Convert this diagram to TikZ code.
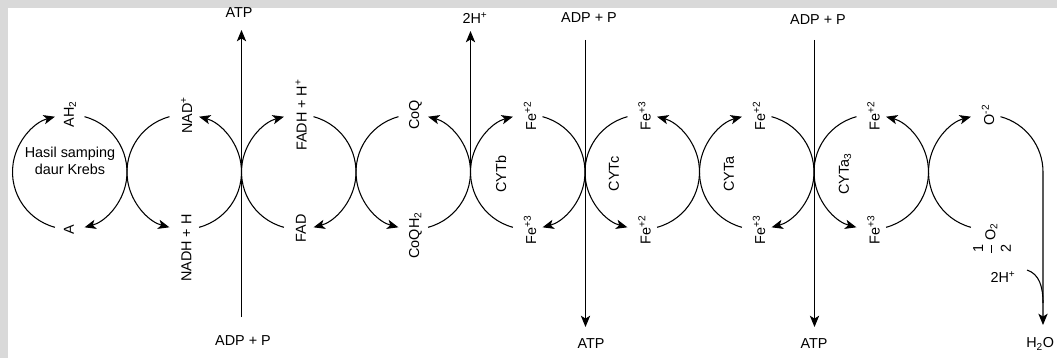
\documentclass[tikz,border=0pt]{standalone}
\usepackage{fontspec}
\setmainfont{Liberation Sans}
\usetikzlibrary{arrows.meta}
\definecolor{bandgray}{RGB}{217,217,217}
\def\crad{57.25}
\tikzset{
  ln/.style={line width=0.8pt},
  arr/.style={ln, -{Stealth[length=8.5pt,width=7pt,inset=2.2pt]}},
  lbl/.style={font=\fontsize{10.8}{12.75}\selectfont, inner sep=0pt},
  rlbl/.style={lbl, rotate=90},
}
\begin{document}
\begin{tikzpicture}[x=0.75pt,y=0.75pt]
\useasboundingbox (0,0) rectangle (1057,358);
\clip (0,0) rectangle (1057,358);
\fill[bandgray] (0,350) rectangle (1057,358);
\fill[bandgray] (0,0) rectangle (8,358);

% circle centres
\foreach \i/\x in {1/69.75,2/184.25,3/298.75,4/413.25,5/527.75,6/642.25,7/756.75,8/871.25,9/985.75}
  \coordinate (C\i) at (\x,186);

% clockwise circles: 1,3,5,7
\foreach \i in {1,3,5,7}{
  \draw[arr] ([shift={(255:\crad)}]C\i) arc[start angle=255,end angle=105,radius=\crad];
  \draw[arr] ([shift={(75:\crad)}]C\i) arc[start angle=75,end angle=-75,radius=\crad];
}
% counter-clockwise circles: 2,4,6,8
\foreach \i in {2,4,6,8}{
  \draw[arr] ([shift={(105:\crad)}]C\i) arc[start angle=105,end angle=255,radius=\crad];
  \draw[arr] ([shift={(-75:\crad)}]C\i) arc[start angle=-75,end angle=75,radius=\crad];
}
% last circle
\coordinate (h2otip) at (1043,33);
\draw[arr] ([shift={(255:\crad)}]C9) arc[start angle=255,end angle=105,radius=\crad];
\draw[arr] ([shift={(75:\crad)}]C9) arc[start angle=75,end angle=0,radius=\crad] -- (h2otip);

% top labels
\node[rlbl] (ah2) at (70,244) {AH\textsubscript{2}};
\node[rlbl] (nad) at (186.5,243) {NAD\textsuperscript{+}};
\node[rlbl] (fadh) at (301,243) {FADH + H\textsuperscript{+}};
\node[rlbl] (coq) at (415.5,243) {CoQ};
\node[rlbl] (fe1) at (530,242) {Fe\textsuperscript{+2}};
\node[rlbl] (fe2) at (644.5,242) {Fe\textsuperscript{+3}};
\node[rlbl] (fe3) at (759,242) {Fe\textsuperscript{+2}};
\node[rlbl] (fe4) at (873.5,242) {Fe\textsuperscript{+2}};
\node[rlbl] (o2m) at (988,243) {O\textsuperscript{-2}};

% bottom labels
\node[rlbl] (a) at (69,128) {A};
\node[rlbl,anchor=east] (nadh) at (186.5,144) {NADH + H};
\node[rlbl,anchor=east] (fad) at (301,144) {FAD};
\node[rlbl,anchor=east] (coqh) at (415.5,146) {CoQH\textsubscript{2}};
\node[rlbl,anchor=east] (fe5) at (530,143) {Fe\textsuperscript{+3}};
\node[rlbl,anchor=east] (fe6) at (644.5,143) {Fe\textsuperscript{+2}};
\node[rlbl,anchor=east] (fe7) at (759,143) {Fe\textsuperscript{+3}};
\node[rlbl,anchor=east] (fe8) at (873.5,143) {Fe\textsuperscript{+3}};
\node[rlbl] (halfo) at (992,119) {${\displaystyle\frac{\mbox{1}\rule[-5pt]{0pt}{5pt}}{\rule{0pt}{13pt}\mbox{2}}}$\,O\textsubscript{2}};

% inner labels
\node[lbl,align=center] (krebs) at (70,197) {Hasil samping\\daur Krebs};
\node[rlbl] (cytb) at (501,184) {CYTb};
\node[rlbl] (cytc) at (614,184) {CYTc};
\node[rlbl] (cyta) at (729,184) {CYTa};
\node[rlbl] (cyta3) at (845,184) {CYTa\textsubscript{3}};

% vertical lines
\node[lbl] (atp1) at (239,345) {ATP};
\node[lbl] (adp1) at (243,17) {ADP + P};
\coordinate (L1b) at (241.5,41);
\coordinate (L1t) at (241.5,328);
\draw[arr] (L1b) -- (L1t);

\node[lbl] (h2p1) at (475,340) {2H\textsuperscript{+}};
\coordinate (J4) at (470.5,186);
\coordinate (L2t) at (470.5,327);
\draw[arr] (J4) -- (L2t);

\node[lbl] (adp2) at (589,340) {ADP + P};
\node[lbl] (atp2) at (591,14) {ATP};
\coordinate (L3t) at (585.5,318);
\coordinate (L3b) at (585.5,31);
\draw[arr] (L3t) -- (L3b);

\node[lbl] (adp3) at (818,338) {ADP + P};
\node[lbl] (atp3) at (814,14) {ATP};
\coordinate (L4t) at (814.5,318);
\coordinate (L4b) at (814.5,31);
\draw[arr] (L4t) -- (L4b);

% water formation
\node[lbl] (h2p2) at (1003,81) {2H\textsuperscript{+}};
\node[lbl,anchor=west] (h2o) at (1026,14) {H\textsubscript{2}O};
\coordinate (hs) at (1027,88);
\coordinate (hj) at (1043,55);
\draw[ln] (hs) .. controls (1039,84) and (1043,72) .. (hj);
\end{tikzpicture}
\end{document}
